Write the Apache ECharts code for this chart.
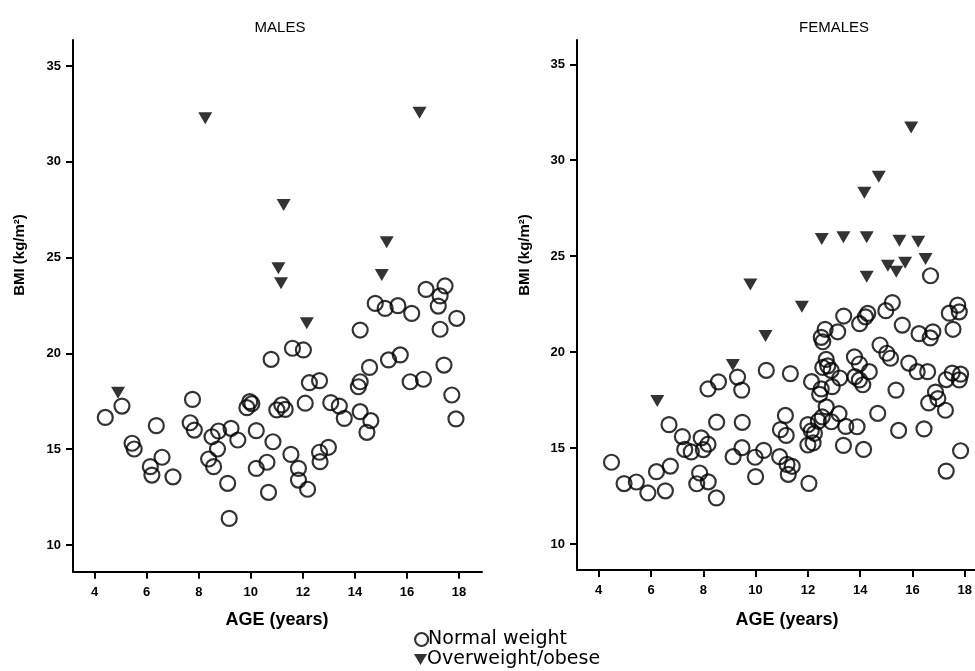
<!DOCTYPE html>
<html>
<head>
<meta charset="utf-8">
<script src="https://cdn.jsdelivr.net/npm/echarts@6/dist/echarts.min.js"></script>
<style>
  html, body { margin: 0; padding: 0; background: #fff; }
  #chart { width: 975px; height: 671px; }
</style>
</head>
<body>
<div id="chart"></div>
<script>
// ---- Data (age in years, BMI in kg/m2) ----
const xTicks = [4, 6, 8, 10, 12, 14, 16, 18];
const yTicks = [10, 15, 20, 25, 30, 35];

const maleNormal = [
  [4.41,16.66],[5.05,17.25],[5.44,15.31],[5.52,15.01],[6.14,14.09],[6.20,13.65],[6.37,16.23],[6.59,14.58],
  [7.01,13.56],[7.76,17.60],[7.67,16.38],[7.83,16.00],[8.51,15.65],[8.76,15.95],[8.72,15.01],[8.38,14.49],
  [8.57,14.09],[9.24,16.09],[9.50,15.48],[9.11,13.22],[9.17,11.39],[9.85,17.17],[9.96,17.48],[10.04,17.38],
  [10.21,15.97],[10.85,15.39],[10.78,19.69],[10.62,14.32],[10.21,14.00],[10.68,12.75],[11.00,17.05],[11.19,17.31],
  [11.32,17.08],[11.60,20.27],[12.02,20.18],[12.09,17.40],[11.54,14.73],[11.83,14.00],[11.83,13.39],[12.18,12.91],
  [12.25,18.47],[12.64,18.58],[12.64,14.84],[12.66,14.35],[12.98,15.10],[13.07,17.43],[13.40,17.25],[13.59,16.61],
  [14.13,18.26],[14.20,18.52],[14.20,16.96],[14.61,16.49],[14.46,15.88],[14.56,19.27],[15.29,19.66],[15.74,19.92],
  [16.12,18.52],[16.63,18.65],[17.42,19.39],[17.72,17.83],[17.88,16.58],[14.20,21.22],[17.27,21.26],[16.73,23.34],
  [17.46,23.52],[17.27,23.00],[17.20,22.47],[14.78,22.61],[15.16,22.35],[15.65,22.49],[16.18,22.09],[17.91,21.83]
];
const maleOver = [
  [8.25,32.27],[16.48,32.56],[11.26,27.75],[11.06,24.44],[11.16,23.66],[15.22,25.80],[15.03,24.09],[12.15,21.57],[4.90,17.95]
];
const femaleNormal = [
  [4.49,14.26],[4.97,13.15],[5.44,13.23],[5.88,12.66],[6.21,13.77],[6.55,12.77],[6.74,14.06],[6.69,16.22],
  [7.20,15.60],[7.29,14.93],[7.54,14.80],[7.92,15.53],[8.18,15.20],[8.00,14.92],[7.86,13.70],[7.75,13.14],
  [8.19,13.24],[8.50,12.40],[8.18,18.08],[8.58,18.45],[8.51,16.35],[9.31,18.70],[9.47,18.02],[9.49,16.34],
  [9.48,15.02],[9.14,14.55],[9.98,14.52],[10.31,14.88],[10.00,13.51],[10.41,19.05],[10.92,14.55],[10.95,15.96],
  [11.14,16.70],[11.17,15.66],[11.20,14.15],[11.40,14.05],[11.25,13.63],[11.33,18.88],[12.04,13.16],[12.00,16.22],
  [12.13,15.90],[12.25,15.77],[12.00,15.16],[12.20,15.27],[12.14,18.46],[12.51,18.08],[12.45,17.80],[12.70,17.15],
  [12.40,16.40],[12.55,16.62],[12.90,16.37],[12.70,19.62],[12.76,19.28],[12.57,19.20],[12.89,19.05],[12.93,18.20],
  [13.22,18.65],[13.19,16.79],[13.45,16.13],[13.88,16.11],[13.36,15.14],[14.13,14.93],[13.78,19.75],[13.97,19.38],
  [14.35,18.98],[13.80,18.72],[13.97,18.55],[14.10,18.30],[14.67,16.81],[14.76,20.37],[15.02,19.94],[15.16,19.68],
  [15.37,18.02],[15.47,15.92],[15.86,19.43],[16.18,18.98],[16.58,18.98],[16.44,16.00],[16.62,17.35],[16.88,17.92],
  [16.97,17.58],[17.26,16.97],[17.29,13.80],[17.29,18.57],[17.52,18.91],[17.84,18.85],[17.79,18.55],[17.84,14.86],
  [16.69,23.98],[15.23,22.58],[14.98,22.16],[14.29,22.02],[14.20,21.84],[13.98,21.48],[13.37,21.88],[12.66,21.19],
  [13.14,21.06],[12.51,20.77],[12.57,20.54],[15.61,21.41],[16.25,20.96],[16.78,21.06],[16.68,20.74],[17.55,21.19],
  [17.41,22.03],[17.73,22.45],[17.79,22.10]
];
const femaleOver = [
  [15.95,31.70],[14.71,29.14],[14.16,28.31],[12.53,25.89],[13.36,25.98],[14.25,25.98],[15.50,25.80],[16.22,25.75],
  [15.06,24.50],[15.38,24.19],[15.72,24.66],[16.50,24.85],[14.25,23.93],[9.80,23.53],[11.77,22.37],[10.38,20.84],
  [9.13,19.33],[6.24,17.45]
];
const panelTitles = ['MALES', 'FEMALES'];
const xName = 'AGE (years)';
const yName = 'BMI (kg/m²)';
const legendNames = ['Normal weight', 'Overweight/obese'];

// ---- Chart ----
const chart = echarts.init(document.getElementById('chart'), null, { renderer: 'canvas' });
const FONT = 'Liberation Sans, Arial, Helvetica, sans-serif';
const triPath = 'path://M0,0 L10,0 L5,8.6 Z';

function xAxisCfg(gi, min, max) {
  return {
    type: 'value', gridIndex: gi, min: min, max: max,
    splitLine: { show: false },
    axisLine: { show: true, onZero: false, lineStyle: { color: '#000', width: 2 } },
    axisTick: { show: true, length: 7, customValues: xTicks, lineStyle: { color: '#000', width: 2 } },
    axisLabel: { customValues: xTicks, color: '#000', fontWeight: 'bold', fontSize: 13, fontFamily: FONT, margin: 14 }
  };
}
function yAxisCfg(gi, min, max) {
  return {
    type: 'value', gridIndex: gi, min: min, max: max,
    splitLine: { show: false },
    axisLine: { show: true, onZero: false, lineStyle: { color: '#000', width: 2 } },
    axisTick: { show: true, length: 7, customValues: yTicks, lineStyle: { color: '#000', width: 2 } },
    axisLabel: { customValues: yTicks, color: '#000', fontWeight: 'bold', fontSize: 13, fontFamily: FONT, margin: 12 }
  };
}
const normalStyle = { color: 'rgba(0,0,0,0)', borderColor: '#000', borderWidth: 2.2 };
const overStyle = { color: '#000' };

function legendCfg(name, top) {
  return {
    data: [name],
    orient: 'vertical',
    left: 414, top: top, padding: 0,
    itemWidth: 13, itemHeight: 13, itemGap: 0,
    selectedMode: false,
    itemStyle: { borderWidth: 2.2 },
    textStyle: { color: '#000', fontSize: 19, lineHeight: 19, fontFamily: 'DejaVu Sans, sans-serif', padding: [0, 0, 0, -5] }
  };
}

const option = {
  backgroundColor: '#fff',
  animation: false,
  grid: [
    { left: 73, top: 40, width: 409, height: 531.7 },
    { left: 577, top: 40, width: 398, height: 530 }
  ],
  xAxis: [xAxisCfg(0, 3.17, 18.88), xAxisCfg(1, 3.17, 18.38)],
  yAxis: [yAxisCfg(0, 8.607, 36.357), yAxisCfg(1, 8.645, 36.266)],
  legend: [legendCfg(legendNames[0], 630), legendCfg(legendNames[1], 650)],
  graphic: [
    { type: 'text', x: 280, y: 28, style: { text: panelTitles[0], align: 'center', verticalAlign: 'middle', font: '15px ' + FONT, fill: '#000' } },
    { type: 'text', x: 834, y: 28, style: { text: panelTitles[1], align: 'center', verticalAlign: 'middle', font: '15px ' + FONT, fill: '#000' } },
    { type: 'text', x: 277, y: 620, style: { text: xName, align: 'center', verticalAlign: 'middle', font: 'bold 18px ' + FONT, fill: '#000' } },
    { type: 'text', x: 787, y: 620, style: { text: xName, align: 'center', verticalAlign: 'middle', font: 'bold 18px ' + FONT, fill: '#000' } },
    { type: 'text', x: 20, y: 255, rotation: Math.PI / 2, style: { text: yName, align: 'center', verticalAlign: 'middle', font: 'bold 15px ' + FONT, fill: '#000' } },
    { type: 'text', x: 525, y: 255, rotation: Math.PI / 2, style: { text: yName, align: 'center', verticalAlign: 'middle', font: 'bold 15px ' + FONT, fill: '#000' } }
  ],
  series: [
    { name: legendNames[0], type: 'scatter', xAxisIndex: 0, yAxisIndex: 0, data: maleNormal, symbol: 'circle', symbolSize: 15, itemStyle: normalStyle, z: 2 },
    { name: legendNames[1], type: 'scatter', xAxisIndex: 0, yAxisIndex: 0, data: maleOver, symbol: triPath, symbolSize: [14, 12], itemStyle: overStyle, z: 3 },
    { name: legendNames[0], type: 'scatter', xAxisIndex: 1, yAxisIndex: 1, data: femaleNormal, symbol: 'circle', symbolSize: 15, itemStyle: normalStyle, z: 2 },
    { name: legendNames[1], type: 'scatter', xAxisIndex: 1, yAxisIndex: 1, data: femaleOver, symbol: triPath, symbolSize: [14, 12], itemStyle: overStyle, z: 3 }
  ]
};
chart.setOption(option);
</script>
</body>
</html>
